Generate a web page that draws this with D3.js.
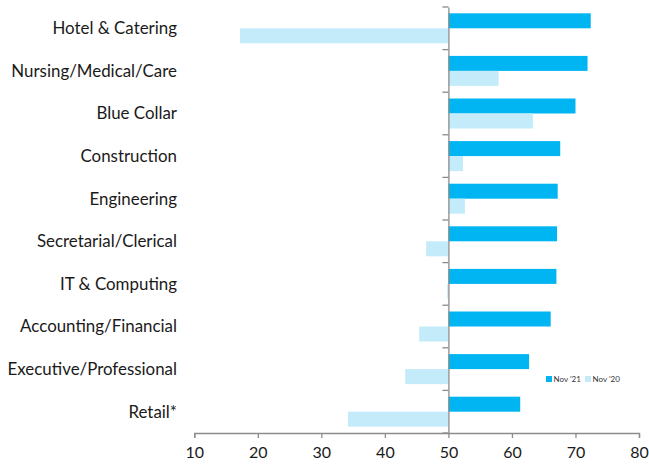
<!DOCTYPE html>
<html><head><meta charset="utf-8">
<script src="https://cdn.jsdelivr.net/npm/d3@7"></script>
<style>body{margin:0;background:#fff}svg{display:block}</style>
</head><body><svg id="c" width="649" height="467"></svg>
<script>
const categories = ["Hotel & Catering","Nursing/Medical/Care","Blue Collar","Construction","Engineering","Secretarial/Clerical","IT & Computing","Accounting/Financial","Executive/Professional","Retail*"];
const nov21 = [72.4,71.9,70.0,67.6,67.2,67.1,67.0,66.1,62.7,61.3];
const nov20 = [17.2,57.9,63.3,52.3,52.6,46.5,49.8,45.4,43.2,34.2];
const seriesNames = ["Nov '21","Nov '20"];
const xTicks = [10,20,30,40,50,60,70,80];
const colors = ["#00B5F1","#C4EBFA"];
const baseline = 50;

const svg = d3.select("#c");
const font = "'Source Sans Pro', Lato, 'Noto Sans', sans-serif";
const x = d3.scaleLinear().domain([10,80]).range([194.3,639]);
const y = d3.scaleBand().domain(categories).range([7,433]).paddingInner(0).paddingOuter(0);
const inner = d3.scaleBand().domain([0,1]).range([0,y.bandwidth()]).paddingInner(0).paddingOuter(0.42);

const rows = categories.map((c,i)=>({c, v:[nov21[i],nov20[i]]}));
const g = svg.append("g");
rows.forEach(r=>{
  r.v.forEach((v,k)=>{
    g.append("rect")
      .attr("x", x(Math.min(v,baseline)))
      .attr("width", Math.abs(x(v)-x(baseline)))
      .attr("y", y(r.c)+inner(k))
      .attr("height", inner.bandwidth())
      .attr("fill", colors[k]);
  });
});

// x axis
const xa = svg.append("g").attr("transform","translate(0,433)")
  .call(d3.axisBottom(x).tickValues(xTicks).tickSize(5).tickPadding(9).tickFormat(d3.format("d")));
xa.select(".domain").attr("stroke","#8c8c8c").attr("stroke-width",1.3);
xa.selectAll(".tick line").attr("stroke","#8c8c8c").attr("stroke-width",1.3);
xa.selectAll("text").attr("font-family",font).attr("font-size",16).attr("fill","#1a1a1a");

// category axis at baseline
const ya = svg.append("g").attr("transform",`translate(${x(baseline)},0)`)
  .call(d3.axisLeft(y).tickSize(0).tickPadding(0).tickFormat(""));
ya.select(".domain").attr("stroke","#8c8c8c").attr("stroke-width",1.3);
const bounds = d3.range(categories.length+1).map(i=> i<categories.length ? y(categories[i]) : y.range()[1]);
ya.selectAll(".sep").data(bounds).enter().append("line")
  .attr("x1",-6).attr("x2",0).attr("y1",d=>d).attr("y2",d=>d)
  .attr("stroke","#8c8c8c").attr("stroke-width",1.3);

// category labels
svg.append("g").selectAll("text").data(categories).enter().append("text")
  .attr("x",177).attr("y",d=>y(d)+y.bandwidth()/2).attr("dy","0.35em")
  .attr("text-anchor","end").attr("font-family",font).attr("font-size",16.9).attr("fill","#1a1a1a")
  .text(d=>d);

// legend
const lg = svg.append("g").attr("transform","translate(546,376)");
const lx = [0,39];
seriesNames.forEach((s,k)=>{
  lg.append("rect").attr("x",lx[k]).attr("y",0).attr("width",6).attr("height",6).attr("fill",colors[k]);
  lg.append("text").attr("x",lx[k]+7.5).attr("y",3).attr("dy","0.35em")
    .attr("font-family",font).attr("font-size",8).attr("fill","#333").text(s);
});
</script></body></html>
